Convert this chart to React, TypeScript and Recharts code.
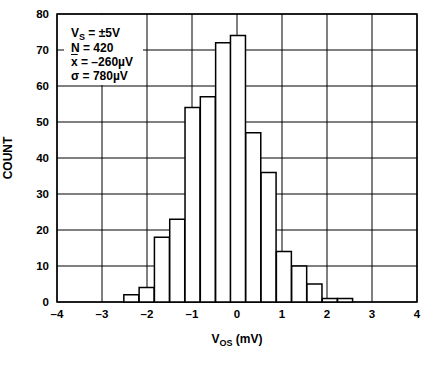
import { ComposedChart, Bar, XAxis, YAxis, CartesianGrid, ReferenceArea } from "recharts";

// bin centres (mV) and counts
const binCenters = [-2.35, -2.01, -1.67, -1.33, -0.99, -0.65, -0.31, 0.02, 0.36, 0.7, 1.04, 1.38, 1.72, 2.06, 2.4];
const counts = [2, 4, 18, 23, 54, 57, 72, 74, 47, 36, 14, 10, 5, 1, 1];

const xTicks = [-4, -3, -2, -1, 0, 1, 2, 3, 4];
const yTicks = [0, 10, 20, 30, 40, 50, 60, 70, 80];

const data = binCenters.map((v, i) => ({ vos: v, count: counts[i] }));

const FONT = "'Liberation Sans', Arial, Helvetica, sans-serif";
const fmt = (v: number) => (v < 0 ? `–${Math.abs(v)}` : `${v}`);

export default function App() {
  return (
    <div
      style={{
        position: "absolute",
        left: 0,
        top: 0,
        width: 426,
        height: 384,
        background: "#fff",
        fontFamily: FONT,
        fontWeight: "bold",
        color: "#000",
      }}
    >
      <ComposedChart
        width={426}
        height={384}
        data={data}
        margin={{ top: 14, right: 9, bottom: 52, left: 0 }}
        barCategoryGap={0}
        barGap={0}
      >
        <CartesianGrid stroke="#000" strokeWidth={1} horizontalValues={yTicks} verticalValues={xTicks} />
        <XAxis
          dataKey="vos"
          type="number"
          domain={[-4, 4]}
          ticks={xTicks}
          tickFormatter={fmt}
          height={30}
          axisLine={false}
          tickLine={false}
          tick={{ fill: "#000", fontSize: 11.5, fontWeight: "bold" }}
        />
        <YAxis
          type="number"
          domain={[0, 80]}
          ticks={yTicks}
          width={57}
          axisLine={false}
          tickLine={false}
          tick={{ fill: "#000", fontSize: 11.5, fontWeight: "bold" }}
        />
        <Bar dataKey="count" fill="#fff" stroke="#000" strokeWidth={1.5} isAnimationActive={false} />
        <ReferenceArea x1={-4} x2={4} y1={0} y2={80} fill="none" stroke="#000" strokeWidth={1.5} />
      </ComposedChart>

      {/* stats box, masks the grid behind it */}
      <div
        style={{
          position: "absolute",
          zIndex: 5,
          left: 64,
          top: 15,
          width: 79,
          height: 70,
          background: "#fff",
        }}
      />
      <div
        style={{
          position: "absolute",
          zIndex: 6,
          left: 71,
          top: 26,
          fontSize: 12,
          lineHeight: "14px",
          whiteSpace: "nowrap",
        }}
      >
        <div>
          V<span style={{ fontSize: 9, position: "relative", top: 3 }}>S</span> = ±5V
        </div>
        <div>N = 420</div>
        <div>
          <span style={{ textDecoration: "overline" }}>x</span> = –260µV
        </div>
        <div>σ = 780µV</div>
      </div>

      {/* axis titles */}
      <div
        style={{
          position: "absolute",
          left: 57,
          width: 360,
          top: 333,
          textAlign: "center",
          fontSize: 12,
          lineHeight: "13px",
        }}
      >
        V<span style={{ fontSize: 9, position: "relative", top: 3 }}>OS</span> (mV)
      </div>
      <div
        style={{
          position: "absolute",
          left: -42,
          top: 151,
          width: 100,
          height: 14,
          lineHeight: "14px",
          textAlign: "center",
          fontSize: 12,
          transform: "rotate(-90deg)",
        }}
      >
        COUNT
      </div>
    </div>
  );
}
